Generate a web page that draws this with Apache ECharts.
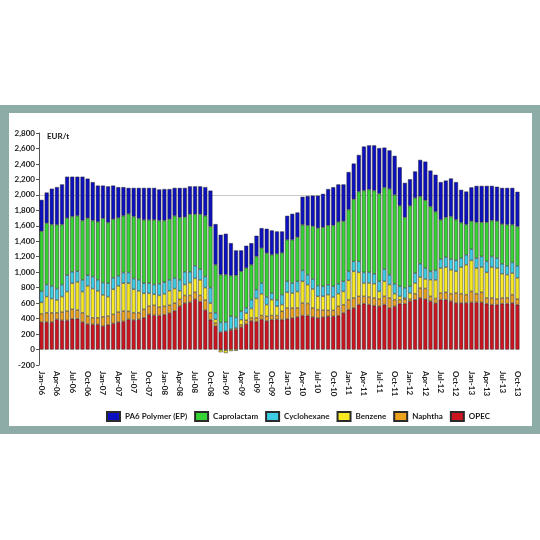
<!DOCTYPE html>
<html>
<head>
<meta charset="utf-8">
<script src="https://cdn.jsdelivr.net/npm/echarts@6/dist/echarts.min.js"></script>
<style>
  html, body { margin: 0; padding: 0; background: #ffffff; }
  #frame { position: absolute; left: 0; top: 105px; width: 540px; height: 329px; background: #8eaca7; }
  #inner { position: absolute; left: 9px; top: 8px; width: 523px; height: 313px; background: #ffffff; }
  #chart { position: absolute; left: 0; top: 0; width: 540px; height: 540px; }
</style>
</head>
<body>
<div id="frame"><div id="inner"></div></div>
<div id="chart"></div>
<script>
const categories = (function () {
  const m = ['Jan','Feb','Mar','Apr','May','Jun','Jul','Aug','Sep','Oct','Nov','Dec'];
  const out = [];
  for (let y = 6; y <= 13; y++) {
    for (let i = 0; i < 12; i++) {
      if (y === 13 && i > 9) break;
      out.push(m[i] + '-' + String(y).padStart(2, '0'));
    }
  }
  return out;
})();

const opec = [355,355,355,390,377,377,398,398,355,329,325,325,
  303,320,338,355,364,390,381,390,411,455,442,440,
  452,470,500,560,600,610,650,620,510,385,305,225,
  237,250,260,290,330,370,360,390,370,387,390,387,
  396,409,421,439,439,421,409,421,430,430,439,473,
  516,538,581,593,581,568,559,581,538,559,593,593,
  624,645,667,653,624,600,645,645,624,602,602,602,
  610,610,610,593,581,581,593,593,602,581];

const naphtha = [107,121,121,86,108,121,122,113,121,104,86,86,
  121,113,117,130,134,104,95,86,109,108,130,110,
  108,102,100,90,100,90,90,80,130,90,40,-5,
  -10,15,20,30,50,40,50,50,60,53,50,108,
  142,129,117,163,156,117,107,89,77,77,120,107,
  129,129,107,95,99,99,96,107,129,86,52,57,
  29,77,128,137,64,60,86,95,98,129,120,108,
  142,112,130,74,86,72,74,74,108,72];

const benzene = [148,208,182,165,199,251,337,364,273,390,377,347,
  282,251,324,338,359,363,303,282,207,164,142,150,
  160,188,188,110,140,166,180,200,161,125,45,-30,
  -35,-20,-15,65,90,120,250,280,150,205,120,86,
  202,192,212,280,244,245,172,178,203,172,163,172,
  250,344,310,172,180,184,97,194,172,77,43,17,
  78,138,142,122,215,240,322,326,310,280,344,387,
  400,331,326,331,399,400,313,301,279,274];

const cyclohexane = [145,156,165,147,156,212,148,138,152,138,156,143,
  160,173,148,130,139,139,139,143,130,130,126,150,
  150,140,137,141,165,139,163,139,143,200,85,125,
  118,165,135,109,70,115,114,140,100,86,80,129,
  142,130,132,141,129,129,138,129,128,138,129,130,
  116,129,142,138,138,129,130,158,129,129,129,129,
  86,129,172,141,108,123,117,129,138,141,117,129,
  146,130,138,142,138,130,129,115,137,156];

const caprolactam = [775,794,794,825,777,738,715,716,768,738,725,751,
  829,786,759,750,733,759,802,794,820,820,837,819,
  799,786,804,807,707,745,667,711,785,791,622,618,
  613,525,545,517,514,452,430,452,567,495,598,540,
  537,559,571,590,637,683,744,763,767,788,799,778,
  799,804,903,1058,1072,1076,1135,1055,1109,1149,1043,914,
  1043,971,871,877,838,760,507,515,550,528,457,391,
  362,462,441,505,464,477,513,532,489,508];

const pa6 = [405,396,463,487,518,536,515,506,566,511,496,468,
  425,467,434,397,371,335,370,395,413,413,413,401,
  406,389,361,382,378,360,360,360,371,464,525,516,
  529,421,322,271,288,279,267,258,315,314,289,277,
  310,336,319,362,380,395,420,433,470,494,485,475,
  485,461,473,569,570,584,588,516,498,505,497,445,
  342,343,472,500,465,477,488,475,492,485,425,426,
  437,471,471,471,448,445,468,475,475,449];

const yTicks = { min: -200, max: 2800, step: 200 };
const unitLabel = 'EUR/t';
const refLine = 2000;
const legendOrder = ['PA6 Polymer (EP)', 'Caprolactam', 'Cyclohexane', 'Benzene', 'Naphtha', 'OPEC'];

const seriesDefs = [
  { name: 'OPEC', data: opec, color: '#cc1420' },
  { name: 'Naphtha', data: naphtha, color: '#eba21c' },
  { name: 'Benzene', data: benzene, color: '#f7ea22' },
  { name: 'Cyclohexane', data: cyclohexane, color: '#3ccde2' },
  { name: 'Caprolactam', data: caprolactam, color: '#36d334' },
  { name: 'PA6 Polymer (EP)', data: pa6, color: '#0c10c0' }
];

const FONT = 'Lato, "Liberation Sans", Arial, sans-serif';
const chart = echarts.init(document.getElementById('chart'), null, { renderer: 'canvas' });

const series = seriesDefs.map(function (s) {
  return {
    name: s.name,
    type: 'bar',
    stack: 'total',
    barWidth: '78%',
    data: s.data,
    itemStyle: { color: s.color, borderColor: '#2a2a2a', borderWidth: 0.5 },
    emphasis: { disabled: true },
    animation: false
  };
});
series.push({
  name: 'ref',
  type: 'line',
  data: [],
  z: 0,
  silent: true,
  markLine: {
    z: 0,
    silent: true,
    symbol: 'none',
    label: { show: false },
    lineStyle: { color: '#c9c9c9', width: 1, type: 'solid' },
    data: [{ yAxis: refLine }]
  }
});

chart.setOption({
  animation: false,
  backgroundColor: 'transparent',
  textStyle: { fontFamily: FONT },
  grid: { left: 39, top: 133, width: 481, height: 232, containLabel: false },
  legend: {
    data: legendOrder,
    left: 106,
    top: 411,
    padding: 0,
    itemWidth: 13,
    itemHeight: 9,
    itemGap: 7,
    icon: 'rect',
    textStyle: { fontSize: 8, fontWeight: 'bold', color: '#1a1a1a', fontFamily: FONT },
    selectedMode: false
  },
  xAxis: {
    type: 'category',
    data: categories,
    axisLine: { show: false, onZero: false },
    axisTick: { show: false },
    axisLabel: {
      interval: 2,
      rotate: -90,
      margin: 6,
      fontSize: 8,
      fontWeight: 'bold',
      color: '#1a1a1a',
      fontFamily: FONT
    }
  },
  yAxis: {
    type: 'value',
    min: yTicks.min,
    max: yTicks.max,
    interval: yTicks.step,
    name: unitLabel,
    nameLocation: 'end',
    nameGap: -3,
    nameTextStyle: { fontSize: 8, fontWeight: 'bold', color: '#1a1a1a', align: 'left', padding: [0, 0, 0, 8], verticalAlign: 'middle', fontFamily: FONT },
    axisLine: { show: true, lineStyle: { color: '#555555', width: 1 } },
    axisTick: { show: true, length: 3, lineStyle: { color: '#555555' } },
    splitLine: { show: false },
    axisLabel: {
      fontSize: 8,
      fontWeight: 'bold',
      color: '#1a1a1a',
      margin: 4,
      fontFamily: FONT,
      formatter: function (v) { return v.toLocaleString('en-US'); }
    }
  },
  series: series
});
</script>
</body>
</html>
